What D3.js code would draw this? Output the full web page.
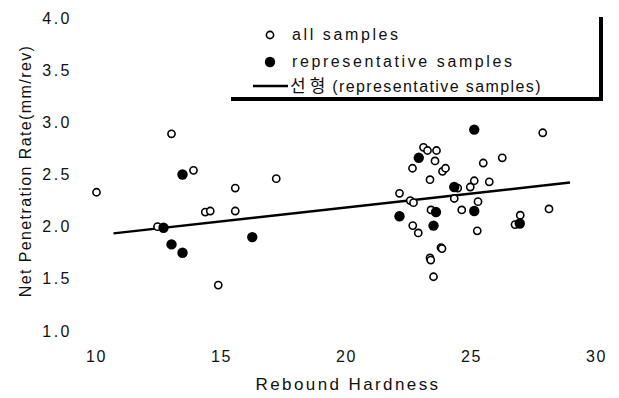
<!DOCTYPE html>
<html>
<head>
<meta charset="utf-8">
<script src="https://cdn.jsdelivr.net/npm/d3@7"></script>
<style>
  html, body { margin: 0; padding: 0; background: #fff; }
  svg { display: block; }
  text { font-family: "Liberation Sans", Arial, sans-serif; fill: #111; }
</style>
</head>
<body>
<svg id="chart" width="619" height="398"></svg>
<script>
// all samples (open circles)
const allX = [10.02, 13.02, 13.90, 12.46, 14.37, 14.57, 15.57, 15.57, 17.21, 14.89,
  27.87, 23.10, 23.26, 23.62, 23.56, 22.66, 23.86, 23.98, 23.36, 25.49, 26.25,
  25.13, 25.73, 24.97, 24.47, 24.33, 22.14, 22.57, 22.70, 25.28, 23.40, 24.63,
  28.12, 26.97, 26.76, 22.67, 22.89, 25.25, 23.80, 23.84, 23.36, 23.39, 23.50];
const allY = [2.33, 2.89, 2.54, 2.00, 2.14, 2.15, 2.37, 2.15, 2.46, 1.44,
  2.90, 2.76, 2.73, 2.73, 2.63, 2.56, 2.53, 2.56, 2.45, 2.61, 2.66,
  2.44, 2.43, 2.38, 2.37, 2.27, 2.32, 2.25, 2.23, 2.24, 2.16, 2.16,
  2.17, 2.11, 2.02, 2.01, 1.94, 1.96, 1.80, 1.79, 1.70, 1.68, 1.52];

// representative samples (filled circles)
const repX = [12.70, 13.46, 13.02, 13.46, 16.25, 25.13, 22.91, 24.33, 23.60, 25.13, 22.14, 23.50, 26.95];
const repY = [1.99, 2.50, 1.83, 1.75, 1.90, 2.93, 2.66, 2.38, 2.14, 2.15, 2.10, 2.01, 2.03];

// linear trend of representative samples (end points)
const trendX = [10.70, 28.96];
const trendY = [1.936, 2.423];

const xTicks = [10, 15, 20, 25, 30];
const yTicks = [1.0, 1.5, 2.0, 2.5, 3.0, 3.5, 4.0];

const legendLabels = ['all samples', 'representative samples', '(representative samples)'];

const svg = d3.select('#chart');

const x = d3.scaleLinear().domain([10, 30]).range([96, 596]);
const y = d3.scaleLinear().domain([1, 4]).range([331, 18]);

// Axes (no lines, labels only)
const xAxis = svg.append('g')
  .attr('transform', `translate(0, ${y(1)})`)
  .call(d3.axisBottom(x).tickValues(xTicks).tickSize(0).tickPadding(20).tickFormat(d3.format('d')));
xAxis.select('.domain').remove();
xAxis.selectAll('text').attr('font-size', '16px').attr('letter-spacing', '1.5px')
  .style('font-family', '"Liberation Sans", Arial, sans-serif').attr('fill', '#111');

const yAxis = svg.append('g')
  .attr('transform', `translate(${x(10)}, 0)`)
  .call(d3.axisLeft(y).tickValues(yTicks).tickSize(0).tickPadding(24).tickFormat(d3.format('.1f')));
yAxis.select('.domain').remove();
yAxis.selectAll('text').attr('font-size', '16px').attr('letter-spacing', '2.5px')
  .style('font-family', '"Liberation Sans", Arial, sans-serif').attr('fill', '#111');

// Axis titles
svg.append('text')
  .attr('x', 348).attr('y', 390)
  .attr('text-anchor', 'middle').attr('font-size', '17px').attr('letter-spacing', '2.4px')
  .text('Rebound Hardness');

svg.append('text')
  .attr('transform', 'translate(31, 171) rotate(-90)')
  .attr('text-anchor', 'middle').attr('font-size', '16px').attr('letter-spacing', '1.4px')
  .text('Net Penetration Rate(mm/rev)');

// Trend line
svg.append('line')
  .attr('x1', x(trendX[0])).attr('y1', y(trendY[0]))
  .attr('x2', x(trendX[1])).attr('y2', y(trendY[1]))
  .attr('stroke', '#000').attr('stroke-width', 2.4);

// All samples
svg.append('g').selectAll('circle')
  .data(allX.map((d, i) => [d, allY[i]]))
  .join('circle')
  .attr('cx', d => x(d[0])).attr('cy', d => y(d[1]))
  .attr('r', 3.6)
  .attr('fill', '#fff').attr('stroke', '#000').attr('stroke-width', 1.6);

// Representative samples
svg.append('g').selectAll('circle')
  .data(repX.map((d, i) => [d, repY[i]]))
  .join('circle')
  .attr('cx', d => x(d[0])).attr('cy', d => y(d[1]))
  .attr('r', 5.2)
  .attr('fill', '#000');

// Legend (shadow-style border: thick bottom and right edges)
const lg = svg.append('g');
lg.append('rect').attr('x', 231).attr('y', 97).attr('width', 372).attr('height', 4).attr('fill', '#000');
lg.append('rect').attr('x', 599).attr('y', 17).attr('width', 4).attr('height', 84).attr('fill', '#000');

lg.append('circle').attr('cx', 270).attr('cy', 35).attr('r', 3.6)
  .attr('fill', '#fff').attr('stroke', '#000').attr('stroke-width', 1.6);
lg.append('text').attr('x', 292).attr('y', 40).attr('font-size', '16px').attr('letter-spacing', '2.6px')
  .text(legendLabels[0]);

lg.append('circle').attr('cx', 270).attr('cy', 62).attr('r', 5.2).attr('fill', '#000');
lg.append('text').attr('x', 292).attr('y', 67).attr('font-size', '16px').attr('letter-spacing', '2.6px')
  .text(legendLabels[1]);

lg.append('line').attr('x1', 253).attr('y1', 86).attr('x2', 288).attr('y2', 86)
  .attr('stroke', '#000').attr('stroke-width', 2.4);
const t3 = lg.append('text').attr('x', 290).attr('y', 92).attr('font-size', '16px');
t3.append('tspan').style('font-family', '"Noto Sans CJK KR", sans-serif').attr('font-size', '17px')
  .attr('letter-spacing', '4px').text('선형');
t3.append('tspan').attr('dx', 3).attr('letter-spacing', '1.4px').text(legendLabels[2]);
</script>
</body>
</html>
